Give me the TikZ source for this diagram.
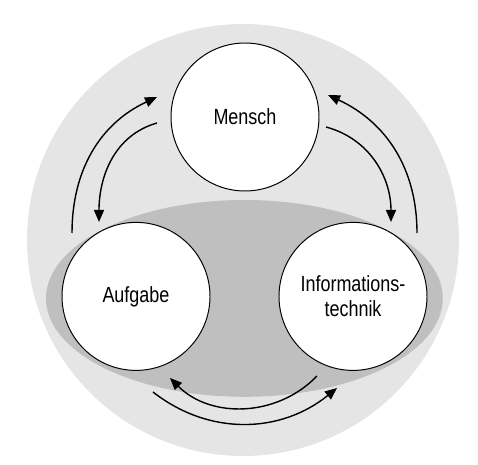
\documentclass[tikz,border=0pt]{standalone}
\usepackage{fontspec}
\setmainfont{Liberation Sans}[FakeStretch=0.82]
\usepackage{tikz}
\usetikzlibrary{arrows.meta}
\definecolor{hell}{gray}{0.9}
\definecolor{mittel}{gray}{0.75}

\begin{document}
\begin{tikzpicture}[kreis/.style={draw,circle,fill=white,line width=0.7pt,minimum size=3.7cm,inner sep=0pt,font=\fontsize{15.6}{17.7}\selectfont,align=center},
pfeil/.style={line width=1pt,-{Triangle[length=0.3cm,width=0.25cm]}}]
\useasboundingbox (0,0) rectangle (11.95,11.6);
\fill[hell] (6.075,5.6) circle (5.4);
\fill[mittel] (6.11,4.14) ellipse (4.96 and 2.46);
\node[kreis] (m) at (6.125,8.675) {Mensch};
\node[kreis] (a) at (3.4,4.19) {Aufgabe};
\node[kreis] (i) at (8.825,4.19) {Informations-\\technik};
\coordinate (l1) at (1.8,5.775);
\coordinate (l2) at (3.925,9.175);
\coordinate (l3) at (3.925,8.525);
\coordinate (l4) at (2.475,6.05);
\coordinate (r1) at (8.15,8.425);
\coordinate (r2) at (9.775,6.05);
\coordinate (r3) at (10.425,5.775);
\coordinate (r4) at (8.2,9.225);
\coordinate (u1) at (7.925,2.2);
\coordinate (u2) at (4.25,2.15);
\coordinate (u3) at (3.825,1.8);
\coordinate (u4) at (8.425,1.9);
\draw[pfeil] (l1) to[out=90,in=205] (l2);
\draw[pfeil] (l3) to[out=196,in=90] (l4);
\draw[pfeil] (r1) to[out=-15,in=90] (r2);
\draw[pfeil] (r3) to[out=90,in=-25] (r4);
\draw[pfeil] (u1) to[out=226,in=-45] (u2);
\draw[pfeil] (u3) to[out=-38,in=-141] (u4);
\end{tikzpicture}
\end{document}
